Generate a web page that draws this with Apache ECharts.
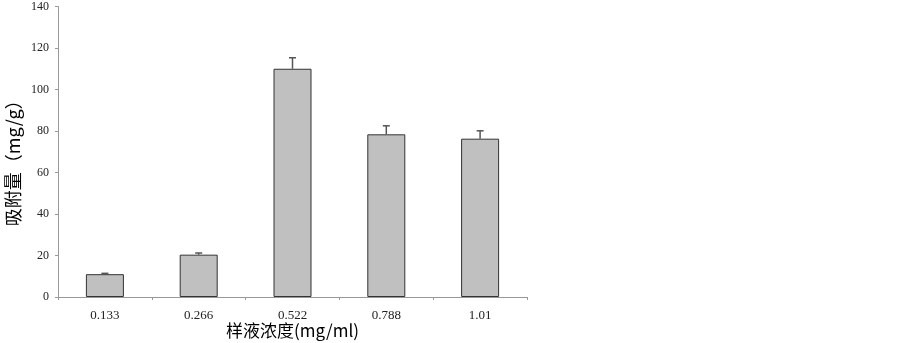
<!DOCTYPE html>
<html>
<head>
<meta charset="utf-8">
<script src="https://cdn.jsdelivr.net/npm/echarts@6/dist/echarts.min.js"></script>
<style>
  html, body { margin: 0; padding: 0; background: #fff; }
  #chart { width: 903px; height: 343px; }
</style>
</head>
<body>
<div id="chart"></div>
<script>
// 样液浓度 (mg/ml)
var categories = ["0.133", "0.266", "0.522", "0.788", "1.01"];
// 吸附量 mean (mg/g)
var means = [11.0, 20.4, 110.0, 78.4, 76.3];
// upper error
var errors = [0.4, 0.8, 5.3, 4.1, 3.8];
var yTicks = [0, 20, 40, 60, 80, 100, 120, 140];

var serif = "'Liberation Serif', 'DejaVu Serif', serif";
var cjk = "'Noto Sans CJK SC', sans-serif";

var chart = echarts.init(document.getElementById("chart"));

var errData = means.map(function (m, i) {
  return [i, m, m + errors[i]];
});

chart.setOption({
  animation: false,
  grid: { left: 58, top: 6.5, right: 376, bottom: 46, containLabel: false, outerBoundsMode: "none" },
  xAxis: {
    type: "category",
    data: categories,
    name: "样液浓度(mg/ml)",
    nameLocation: "middle",
    nameGap: 25,
    nameMoveOverlap: false,
    nameTextStyle: { fontFamily: cjk, fontSize: 17, color: "#000" },
    axisLine: { lineStyle: { color: "#999", width: 1 } },
    axisTick: { show: true, length: 3, lineStyle: { color: "#999" } },
    axisLabel: { fontFamily: serif, fontSize: 13, color: "#222", margin: 12 },
    splitLine: { show: false }
  },
  yAxis: {
    type: "value",
    min: 0,
    max: 140,
    interval: 20,
    name: "吸附量（mg/g）",
    nameLocation: "middle",
    nameRotate: 90,
    nameGap: 36,
    nameMoveOverlap: false,
    nameTextStyle: { fontFamily: cjk, fontSize: 18, color: "#000", padding: [0, 14, 0, 0] },
    axisLine: { show: true, lineStyle: { color: "#999", width: 1 } },
    axisTick: { show: true, length: 3, lineStyle: { color: "#999" } },
    axisLabel: {
      fontFamily: serif, fontSize: 12, color: "#222", margin: 9,
      formatter: function (v) { return yTicks.indexOf(v) >= 0 ? v : ""; }
    },
    splitLine: { show: false }
  },
  series: [
    {
      type: "bar",
      data: means,
      barWidth: 38,
      itemStyle: { color: "#c0c0c0", borderColor: "#333", borderWidth: 1 }
    },
    {
      type: "custom",
      data: errData,
      z: 5,
      renderItem: function (params, api) {
        var base = api.coord([api.value(0), api.value(1)]);
        var top = api.coord([api.value(0), api.value(2)]);
        var half = 3.5;
        var style = { stroke: "#555", lineWidth: 1.5 };
        return {
          type: "group",
          children: [
            { type: "line", shape: { x1: base[0], y1: base[1], x2: top[0], y2: top[1] }, style: style },
            { type: "line", shape: { x1: top[0] - half, y1: top[1], x2: top[0] + half, y2: top[1] }, style: style }
          ]
        };
      }
    }
  ]
});
</script>
</body>
</html>
